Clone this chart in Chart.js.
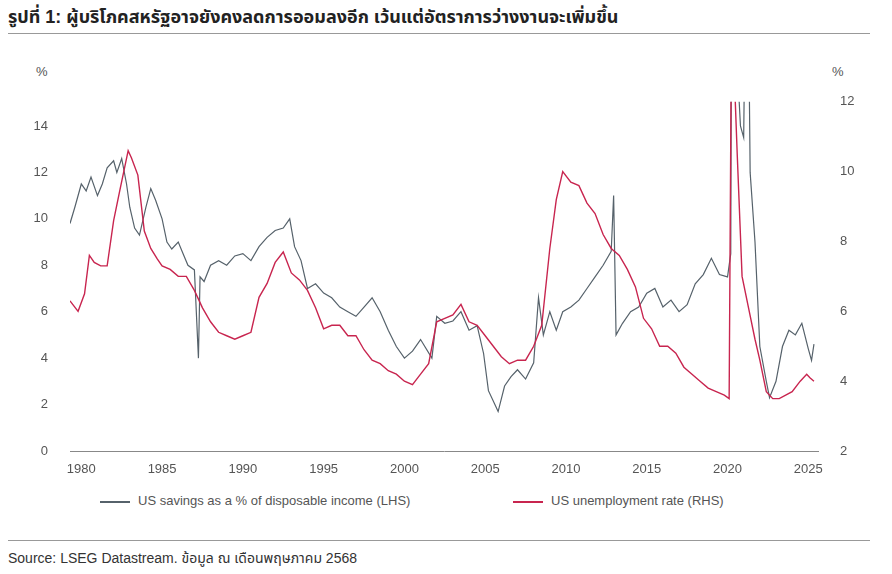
<!DOCTYPE html>
<html><head><meta charset="utf-8">
<script src="https://cdn.jsdelivr.net/npm/chart.js@4"></script>
<style>
body{margin:0;width:892px;height:574px;background:#fff;font-family:Arial,"Liberation Sans","Noto Sans Thai","Noto Sans",sans-serif;position:relative;overflow:hidden}
.t{position:absolute;left:8px;top:4px;font-size:18px;font-weight:bold;color:#222}
.hr{position:absolute;left:8px;width:862px;height:1px;background:#999}
.u{position:absolute;top:64px;font-size:13px;color:#555}
#wrap{position:absolute;left:20px;top:80px;width:852px;height:405px}
.lg{position:absolute;top:493px;font-size:13px;color:#555}
.sw{display:inline-block;width:30px;height:2px;vertical-align:middle;margin-right:8px}
.src{position:absolute;left:8px;top:548px;font-size:14px;color:#333}
</style></head><body>
<div class="t">รูปที่ 1: ผู้บริโภคสหรัฐอาจยังคงลดการออมลงอีก เว้นแต่อัตราการว่างงานจะเพิ่มขึ้น</div>
<div class="hr" style="top:33px"></div>
<div class="u" style="left:36px">%</div>
<div class="u" style="left:832px">%</div>
<div id="wrap"><canvas id="c"></canvas></div>
<div class="lg" style="left:100px"><span class="sw" style="background:#56626b"></span>US savings as a % of disposable income (LHS)</div>
<div class="lg" style="left:513px"><span class="sw" style="background:#c8254f"></span>US unemployment rate (RHS)</div>
<div class="hr" style="top:540px"></div>
<div class="src">Source: LSEG Datastream. ข้อมูล ณ เดือนพฤษภาคม 2568</div>
<script>
const savYears=[1979.3,1979.6,1980,1980.3,1980.6,1981,1981.3,1981.6,1982,1982.2,1982.5,1982.8,1983,1983.3,1983.6,1984,1984.3,1984.6,1985,1985.3,1985.6,1986,1986.3,1986.6,1987,1987.25,1987.35,1987.6,1988,1988.5,1989,1989.5,1990,1990.5,1991,1991.5,1992,1992.5,1992.9,1993.2,1993.6,1994,1994.5,1995,1995.5,1996,1996.5,1997,1997.5,1998,1998.5,1999,1999.5,2000,2000.5,2001,2001.7,2002,2002.5,2003,2003.5,2004,2004.5,2004.9,2005.2,2005.6,2005.8,2006.2,2006.6,2007,2007.5,2008,2008.3,2008.6,2009,2009.4,2009.8,2010.3,2010.8,2011.3,2011.8,2012.3,2012.8,2012.95,2013.1,2013.5,2014,2014.5,2015,2015.5,2016,2016.5,2017,2017.5,2018,2018.5,2019,2019.5,2020,2020.2,2020.3,2020.5,2020.8,2021.0,2021.2,2021.4,2021.7,2022,2022.4,2022.6,2023,2023.4,2023.8,2024.2,2024.6,2025,2025.2,2025.35];
const savValues=[9.8,10.5,11.5,11.2,11.8,11.0,11.5,12.2,12.5,12.0,12.6,11.5,10.5,9.6,9.3,10.5,11.3,10.8,10.0,9.0,8.7,9.0,8.5,8.0,7.8,4.0,7.5,7.3,8.0,8.2,8.0,8.4,8.5,8.2,8.8,9.2,9.5,9.6,10.0,8.8,8.2,7.0,7.2,6.8,6.6,6.2,6.0,5.8,6.2,6.6,6.0,5.2,4.5,4.0,4.3,4.8,4.0,5.8,5.5,5.6,6.0,5.2,5.4,4.2,2.6,2.0,1.7,2.8,3.2,3.5,3.1,3.8,6.6,5.0,6.0,5.2,6.0,6.2,6.5,7.0,7.5,8.0,8.6,11.0,5.0,5.5,6.0,6.2,6.8,7.0,6.2,6.5,6.0,6.3,7.2,7.6,8.3,7.6,7.5,8.5,33.0,18.0,14.0,13.5,26.0,12.0,9.0,4.5,3.0,2.3,3.0,4.5,5.2,5.0,5.5,4.4,3.9,4.6];
const unYears=[1979.3,1979.8,1980.2,1980.5,1980.8,1981.2,1981.6,1982,1982.4,1982.9,1983.1,1983.5,1983.9,1984.3,1984.7,1985,1985.5,1986,1986.5,1987,1987.5,1988,1988.5,1989,1989.5,1990,1990.5,1991,1991.5,1992,1992.5,1993,1993.5,1994,1994.5,1995,1995.5,1996,1996.5,1997,1997.5,1998,1998.5,1999,1999.5,2000,2000.5,2001,2001.5,2002,2002.5,2003,2003.5,2004,2004.5,2005,2005.5,2006,2006.5,2007,2007.5,2008,2008.5,2009,2009.4,2009.8,2010.3,2010.8,2011.3,2011.8,2012.3,2012.8,2013.3,2013.8,2014.3,2014.8,2015.3,2015.8,2016.3,2016.8,2017.3,2017.8,2018.3,2018.8,2019.3,2019.8,2020.1,2020.25,2020.4,2020.6,2020.9,2021.3,2021.7,2022,2022.4,2022.8,2023.2,2023.6,2024,2024.5,2024.9,2025.1,2025.35];
const unValues=[6.3,6.0,6.5,7.6,7.4,7.3,7.3,8.6,9.5,10.6,10.4,9.9,8.3,7.8,7.5,7.3,7.2,7.0,7.0,6.6,6.1,5.7,5.4,5.3,5.2,5.3,5.4,6.4,6.8,7.4,7.7,7.1,6.9,6.6,6.1,5.5,5.6,5.6,5.3,5.3,4.9,4.6,4.5,4.3,4.2,4.0,3.9,4.2,4.5,5.7,5.8,5.9,6.2,5.7,5.6,5.3,5.0,4.7,4.5,4.6,4.6,5.0,5.6,7.8,9.2,10.0,9.7,9.6,9.1,8.8,8.2,7.8,7.6,7.2,6.7,5.8,5.5,5.0,5.0,4.8,4.4,4.2,4.0,3.8,3.7,3.6,3.5,14.7,13.0,10.5,7.0,6.1,5.2,4.6,3.7,3.5,3.5,3.6,3.7,4.0,4.2,4.1,4.0,4.2];
const toPts=(xs,ys)=>xs.map((x,i)=>({x,y:ys[i]}));
new Chart(document.getElementById('c'),{type:'line',
data:{datasets:[
{data:toPts(unYears,unValues),borderColor:'#c8254f',borderWidth:1.4,pointRadius:0,yAxisID:'yR',tension:0},
{data:toPts(savYears,savValues),borderColor:'#56626b',borderWidth:1.2,pointRadius:0,yAxisID:'yL',tension:0}]},
options:{responsive:true,maintainAspectRatio:false,animation:false,
plugins:{legend:{display:false},tooltip:{enabled:false}},
layout:{padding:{top:5,left:0,right:0,bottom:0}},
scales:{
x:{type:'linear',min:1979.3,max:2025.6,grid:{display:false,drawTicks:true},border:{color:'#888'},
 afterFit:s=>{s.height=34},
 ticks:{stepSize:5,color:'#555',font:{size:13},callback:v=>v%5===0?String(v):''},afterBuildTicks:s=>{s.ticks=[1980,1985,1990,1995,2000,2005,2010,2015,2020,2025].map(v=>({value:v}))}},
yL:{position:'left',min:0,max:15.04,grid:{display:false},border:{display:false},afterFit:s=>{s.width=50},
 afterBuildTicks:s=>{s.ticks=[0,2,4,6,8,10,12,14].map(v=>({value:v}))},ticks:{color:'#555',font:{size:13},padding:14}},
yR:{position:'right',min:2,max:12,grid:{display:false},border:{display:false},afterFit:s=>{s.width=54},
 afterBuildTicks:s=>{s.ticks=[2,4,6,8,10,12].map(v=>({value:v}))},ticks:{color:'#555',font:{size:13},padding:14}}
}}});
</script></body></html>
